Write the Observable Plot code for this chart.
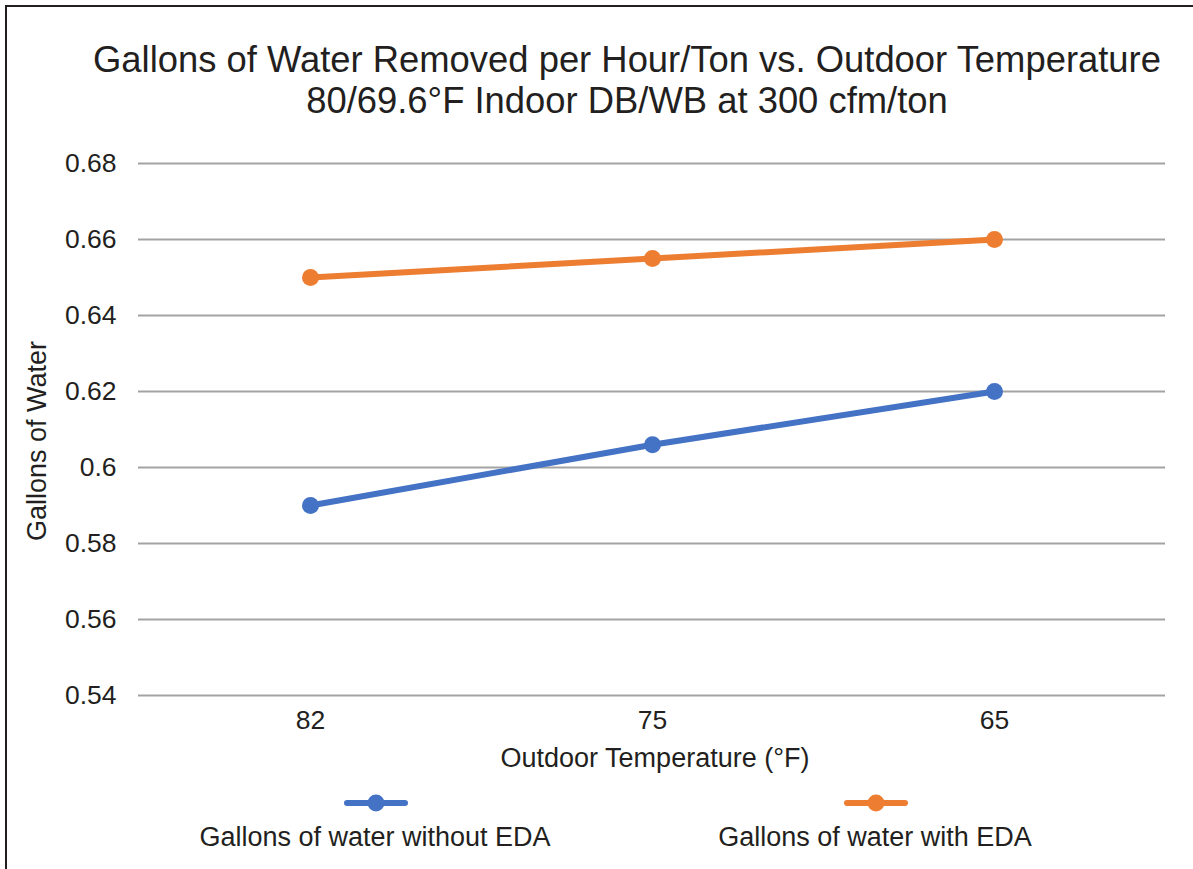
<!DOCTYPE html>
<html>
<head>
<meta charset="utf-8">
<script src="https://cdn.jsdelivr.net/npm/d3@7"></script>
<script src="https://cdn.jsdelivr.net/npm/@observablehq/plot@0.6"></script>
<style>
  html, body { margin: 0; padding: 0; background: #fff; }
  #frame { position: relative; width: 1193px; height: 869px; overflow: hidden; background: #fff;
           font-family: "Liberation Sans", Arial, sans-serif; color: #231f20; }
  #frame > svg { position: absolute; left: 0; top: 0; }
  .bl { position: absolute; left: 5px; top: 5px; width: 2px; height: 864px; background: #231f20; }
  .bt { position: absolute; left: 5px; top: 5px; width: 1188px; height: 2px; background: #231f20; }
</style>
</head>
<body>
<div id="frame"></div>
<script>
const categories = ["82", "75", "65"];
const withoutEDA = [0.59, 0.606, 0.62];
const withEDA = [0.65, 0.655, 0.66];
const yTicks = [0.54, 0.56, 0.58, 0.60, 0.62, 0.64, 0.66, 0.68];
const seriesNames = ["Gallons of water without EDA", "Gallons of water with EDA"];
const seriesColors = ["#4472C4", "#ED7D31"];
const titleLines = ["Gallons of Water Removed per Hour/Ton vs. Outdoor Temperature", "80/69.6°F Indoor DB/WB at 300 cfm/ton"];
const xTitle = "Outdoor Temperature (°F)";
const yTitle = "Gallons of Water";

const data = [];
categories.forEach((c, i) => {
  data.push({temp: c, value: withoutEDA[i], series: seriesNames[0]});
  data.push({temp: c, value: withEDA[i], series: seriesNames[1]});
});

const W = 1193, H = 869;
const chart = Plot.plot({
  width: W, height: H,
  marginLeft: 138, marginRight: 28, marginTop: 163, marginBottom: 174,
  style: {fontFamily: '"Liberation Sans", Arial, sans-serif', fontSize: "26.5px", color: "#231f20", background: "transparent"},
  x: {type: "band", domain: categories, padding: 0, label: null, tickSize: 0, tickPadding: 15},
  y: {domain: [0.54, 0.68], ticks: yTicks, tickFormat: d => String(+d.toFixed(2)), label: null, tickSize: 0, tickPadding: 22},
  color: {domain: seriesNames, range: seriesColors},
  marks: [
    Plot.ruleY(yTicks, {stroke: "#a3a3a3", strokeWidth: 2}),
    Plot.line(data, {x: "temp", y: "value", z: "series", stroke: "series", strokeWidth: 6, strokeLinecap: "round"}),
    Plot.dot(data, {x: "temp", y: "value", fill: "series", r: 8.5, stroke: "none"})
  ]
});
const frame = document.getElementById("frame");
frame.appendChild(chart);

// Overlay texts and legend
const ov = d3.select(frame).append("svg").attr("width", W).attr("height", H)
  .style("font-family", '"Liberation Sans", Arial, sans-serif').attr("fill", "#231f20");
ov.append("text").attr("x", 627).attr("y", 72).attr("text-anchor", "middle").attr("font-size", 36.4).text(titleLines[0]);
ov.append("text").attr("x", 627).attr("y", 113).attr("text-anchor", "middle").attr("font-size", 36.4).text(titleLines[1]);
ov.append("text").attr("x", 655).attr("y", 767).attr("text-anchor", "middle").attr("font-size", 27).text(xTitle);
ov.append("text").attr("transform", "translate(46,441) rotate(-90)").attr("text-anchor", "middle").attr("font-size", 27).text(yTitle);

const legendX = [376, 876];
seriesNames.forEach((name, i) => {
  const g = ov.append("g");
  g.append("line").attr("x1", legendX[i] - 29).attr("x2", legendX[i] + 29).attr("y1", 803).attr("y2", 803)
    .attr("stroke", seriesColors[i]).attr("stroke-width", 6).attr("stroke-linecap", "round");
  g.append("circle").attr("cx", legendX[i]).attr("cy", 803).attr("r", 8.5).attr("fill", seriesColors[i]);
  g.append("text").attr("x", legendX[i] - 1).attr("y", 846).attr("text-anchor", "middle").attr("font-size", 27).text(name);
});

d3.select(frame).append("div").attr("class", "bl");
d3.select(frame).append("div").attr("class", "bt");
</script>
</body>
</html>
